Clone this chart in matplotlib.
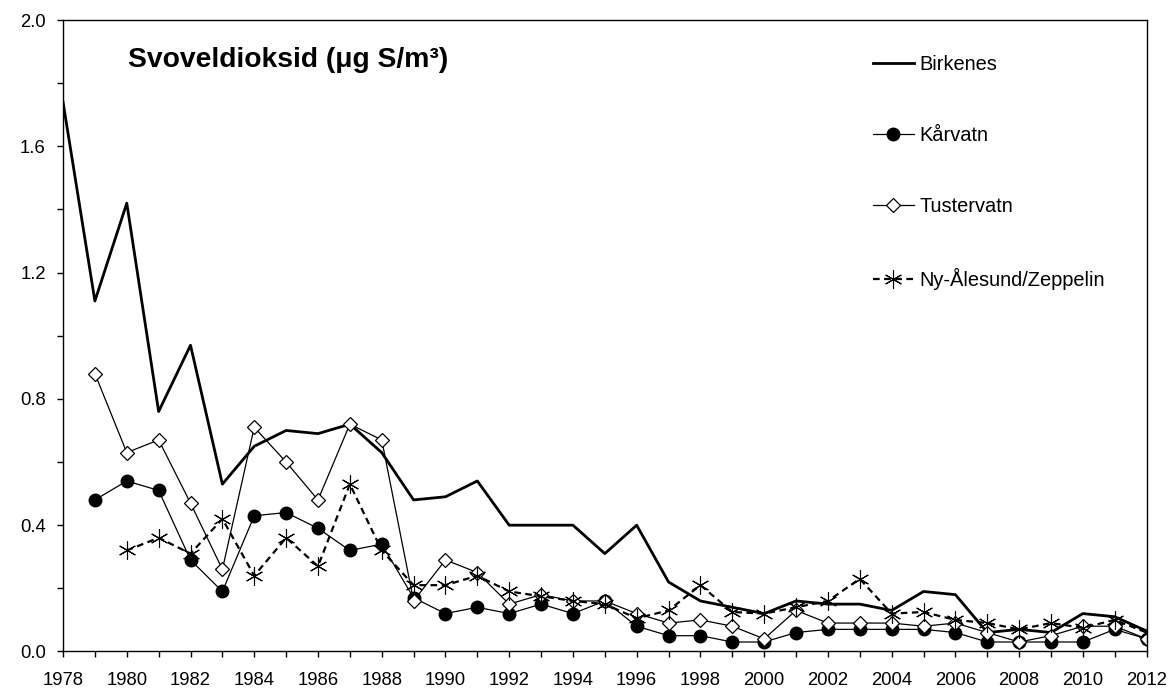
import matplotlib.pyplot as plt
from matplotlib.ticker import MultipleLocator, FormatStrFormatter

plt.rcParams['font.family'] = ['Liberation Sans', 'DejaVu Sans']

years = list(range(1978, 2013))

birkenes = [1.74, 1.11, 1.42, 0.76, 0.97, 0.53, 0.65, 0.70, 0.69, 0.72,
            0.63, 0.48, 0.49, 0.54, 0.40, 0.40, 0.40, 0.31, 0.40, 0.22,
            0.16, 0.14, 0.12, 0.16, 0.15, 0.15, 0.13, 0.19, 0.18, 0.06,
            0.07, 0.06, 0.12, 0.11, 0.065]

karvatn_years = list(range(1979, 2013))
karvatn = [0.48, 0.54, 0.51, 0.29, 0.19, 0.43, 0.44, 0.39, 0.32, 0.34,
           0.17, 0.12, 0.14, 0.12, 0.15, 0.12, 0.16, 0.08, 0.05, 0.05,
           0.03, 0.03, 0.06, 0.07, 0.07, 0.07, 0.07, 0.06, 0.03, 0.03,
           0.03, 0.03, 0.07, 0.04]

tustervatn_years = list(range(1979, 2013))
tustervatn = [0.88, 0.63, 0.67, 0.47, 0.26, 0.71, 0.60, 0.48, 0.72, 0.67,
              0.16, 0.29, 0.25, 0.15, 0.18, 0.16, 0.16, 0.12, 0.09, 0.10,
              0.08, 0.04, 0.13, 0.09, 0.09, 0.09, 0.08, 0.09, 0.06, 0.03,
              0.05, 0.08, 0.08, 0.04]

ny_years = list(range(1980, 2013))
ny_alesund = [0.32, 0.36, 0.31, 0.42, 0.24, 0.36, 0.27, 0.53, 0.32, 0.21,
              0.21, 0.24, 0.19, 0.175, 0.16, 0.15, 0.105, 0.13, 0.21, 0.125,
              0.12, 0.14, 0.16, 0.23, 0.12, 0.125, 0.10, 0.09, 0.07, 0.09,
              0.075, 0.10, 0.06]

fig = plt.figure(figsize=(11.76, 6.91), dpi=100)
ax = fig.add_axes([0.0536, 0.0572, 0.9214, 0.9138])

asterisk = (6, 2, 0)

ax.plot(years, birkenes, color='black', lw=2.0, label='Birkenes')
ax.plot(karvatn_years, karvatn, color='black', lw=0.9, marker='o',
        ms=9, mfc='black', mec='black', label='Kårvatn')
ax.plot(tustervatn_years, tustervatn, color='black', lw=0.9, marker='D',
        ms=7, mfc='white', mec='black', mew=0.9, label='Tustervatn')
ax.plot(ny_years, ny_alesund, color='black', lw=1.6, ls=(0, (3, 2)),
        marker=asterisk, ms=13, mew=0.8, label='Ny-Ålesund/Zeppelin')

ax.set_xlim(1978, 2012)
ax.set_ylim(0, 2.0)
ax.xaxis.set_major_locator(MultipleLocator(2))
ax.xaxis.set_minor_locator(MultipleLocator(1))
ax.yaxis.set_major_locator(MultipleLocator(0.4))
ax.yaxis.set_minor_locator(MultipleLocator(0.2))
ax.yaxis.set_major_formatter(FormatStrFormatter('%.1f'))
ax.tick_params(axis='both', which='both', direction='out', length=4.5,
               width=1, labelsize=13.3)
ax.tick_params(axis='x', which='major', pad=10)
ax.tick_params(axis='y', which='major', pad=8)
for s in ax.spines.values():
    s.set_linewidth(1.0)

ax.text(0.06, 0.937, 'Svoveldioksid (μg S/m³)', transform=ax.transAxes,
        fontsize=20.3, fontweight='bold', va='center', ha='left')

leg = ax.legend(loc='upper left', bbox_to_anchor=(0.7306, 0.973), frameon=False,
                fontsize=14.4, labelspacing=2.6, handlelength=2.05,
                handletextpad=0.3)

plt.savefig('out.png', dpi=100)
